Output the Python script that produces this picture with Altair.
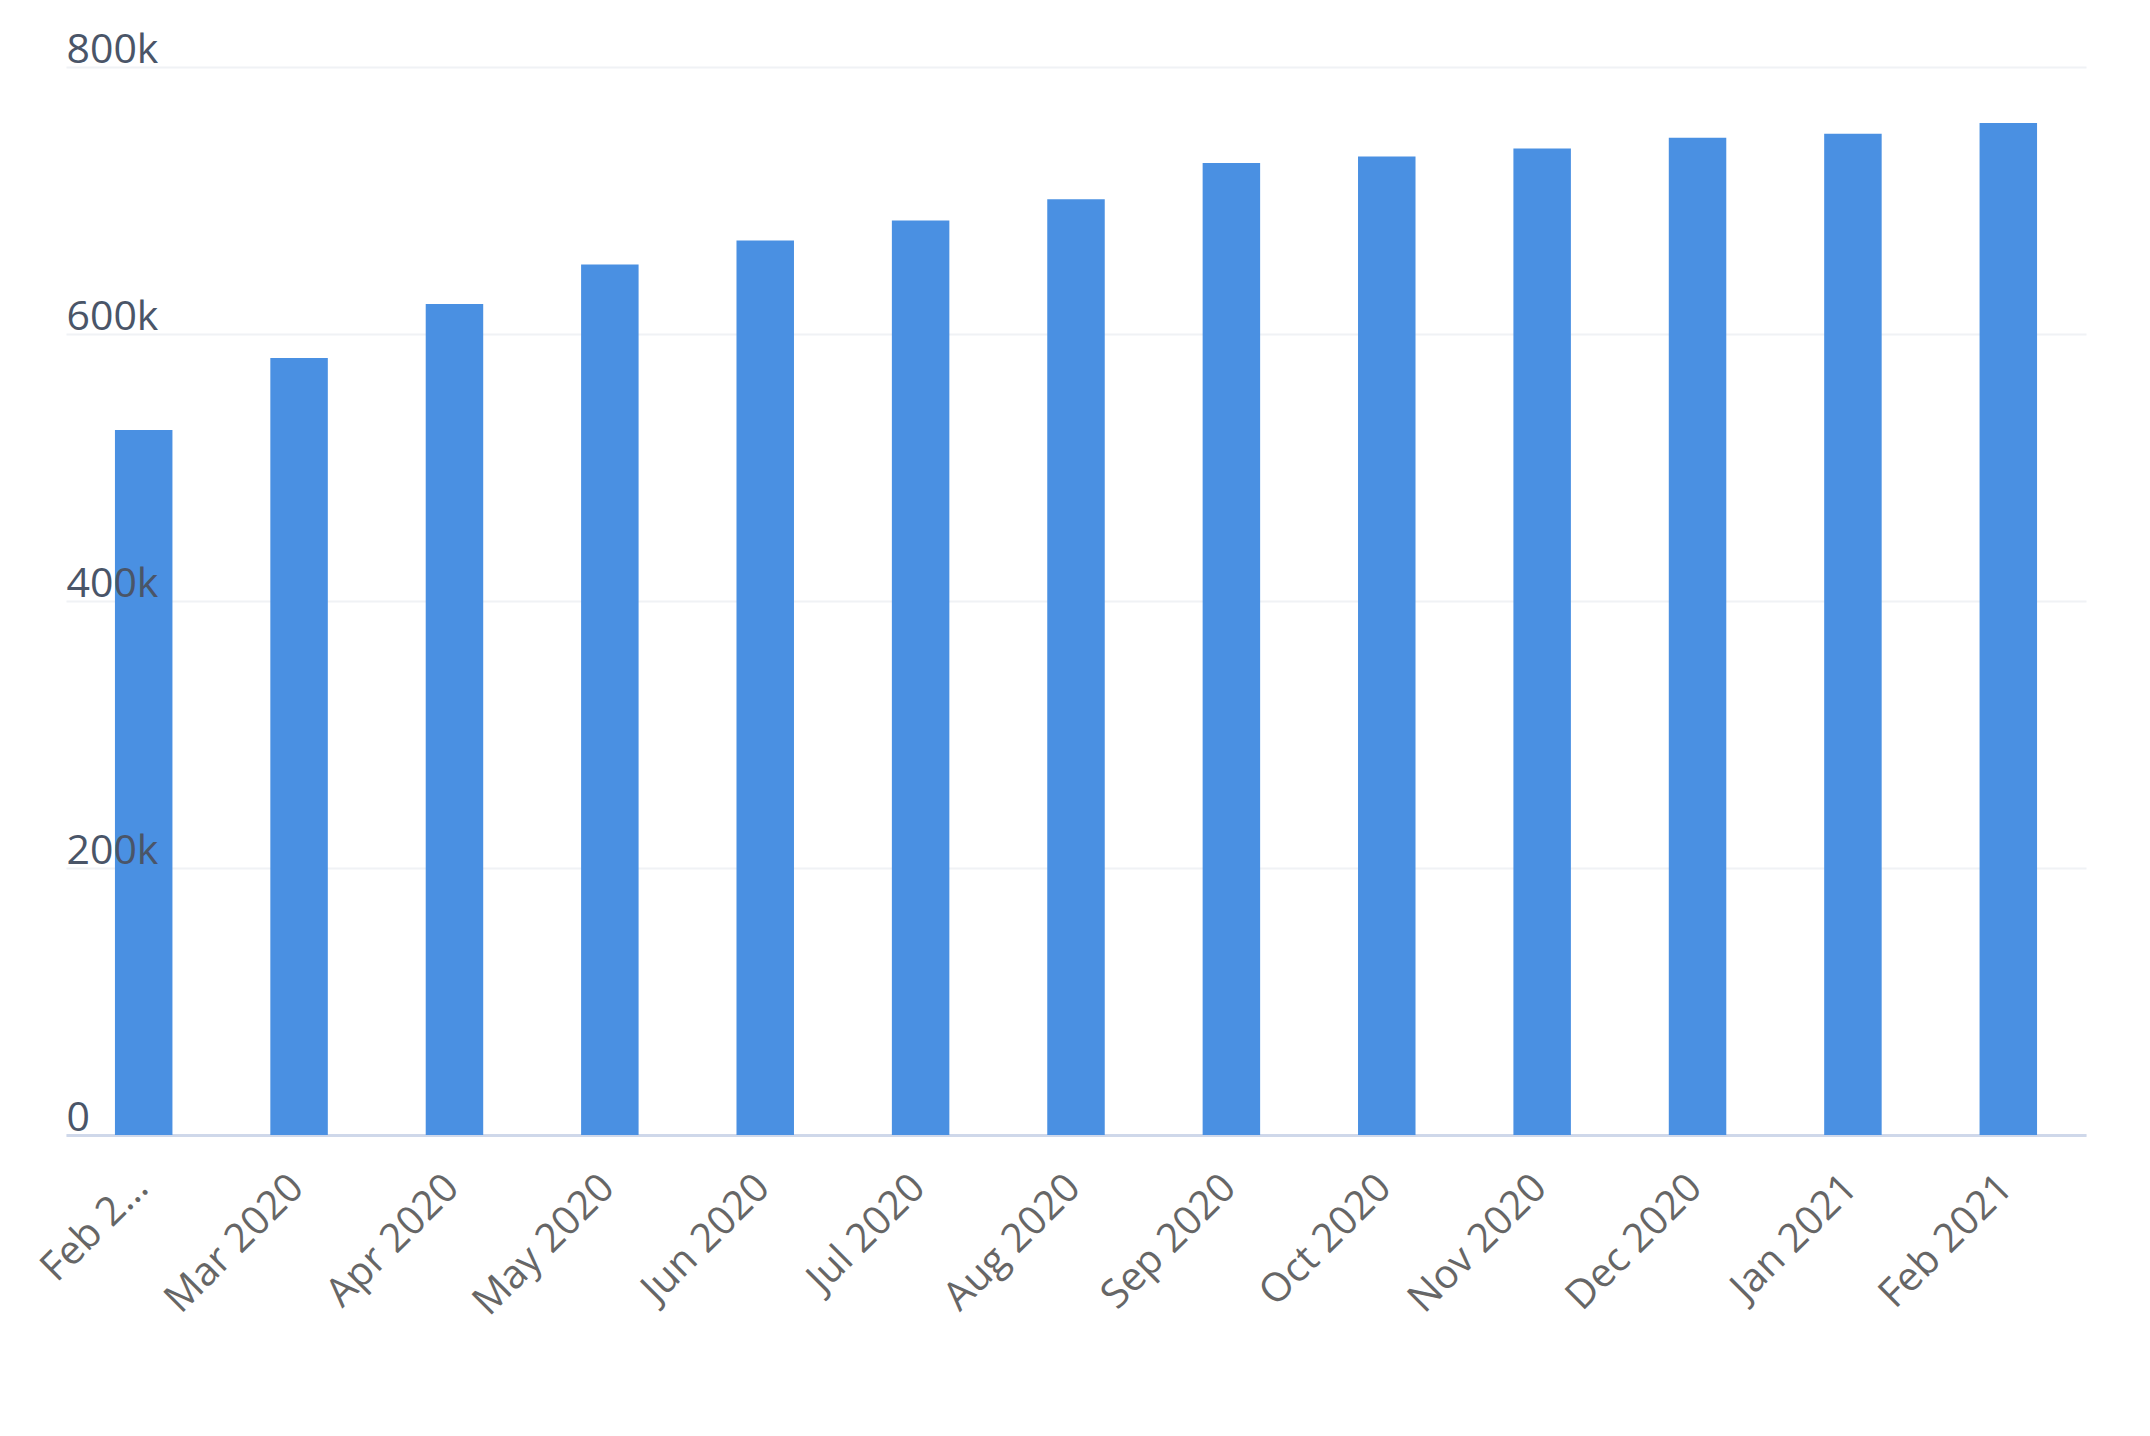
import altair as alt
import pandas as pd

months = ["Feb 2020", "Mar 2020", "Apr 2020", "May 2020", "Jun 2020", "Jul 2020",
          "Aug 2020", "Sep 2020", "Oct 2020", "Nov 2020", "Dec 2020", "Jan 2021", "Feb 2021"]
values = [528000, 582000, 622500, 652000, 670000, 685000,
          701000, 728000, 733000, 739000, 747000, 750000, 758000]
y_ticks = [0, 200000, 400000, 600000, 800000]

df = pd.DataFrame({"month": months, "value": values})

FONT = "Open Sans"

x_enc = alt.X("month:N", sort=months, title=None,
              scale=alt.Scale(paddingInner=0.63, paddingOuter=0.315),
              axis=alt.Axis(labelAngle=-45, labelFontSize=40, labelColor="#666666",
                            labelFont=FONT, labelPadding=46, labelOffset=-2,
                            labelBaseline="middle", labelLimit=600, ticks=False,
                            domainColor="#CFD8EA", domainWidth=3,
                            labelExpr="datum.index == 0 ? slice(datum.label, 0, 5) + '…' : datum.label"))

y_scale = alt.Scale(domain=[0, 800000], nice=False)

bars = alt.Chart(df).mark_bar(color="#4A90E2").encode(
    x=x_enc,
    y=alt.Y("value:Q", title=None, scale=y_scale,
            axis=alt.Axis(values=y_ticks, orient="left", labels=False, ticks=False,
                          domain=False, grid=True, gridColor="#F0F2F5", gridWidth=2,
                          zindex=0))
)

label_layer = alt.Chart(df).mark_bar(opacity=0).encode(
    x=x_enc,
    y=alt.Y("value:Q", title=None, scale=y_scale,
            axis=alt.Axis(values=y_ticks, orient="left", grid=False,
                          labelExpr="datum.value == 0 ? '0' : format(datum.value / 1000, 'd') + 'k'",
                          labelAlign="left", labelBaseline="alphabetic", labelPadding=0,
                          labelOffset=-5, ticks=False, tickSize=0, domain=False,
                          labelFontSize=41, labelColor="#4A5568", labelFont=FONT,
                          zindex=1))
)

chart = alt.layer(bars, label_layer).resolve_axis(y="independent").properties(
    width=2020, height=1068,
    autosize=alt.AutoSizeParams(type="none"),
    padding={"left": 58, "top": 59, "right": 56, "bottom": 290}
).configure_view(stroke=None)

chart.save("out.html", embed_options={"renderer": "svg", "actions": False})
